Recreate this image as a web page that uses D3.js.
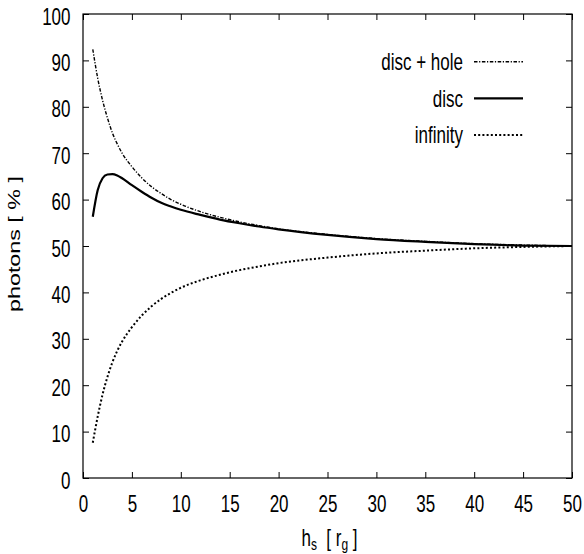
<!DOCTYPE html>
<html>
<head>
<meta charset="utf-8">
<script src="https://cdn.jsdelivr.net/npm/d3@7"></script>
<style>
  body { margin: 0; background: #fff; }
  svg text { font-family: "Liberation Sans", Arial, sans-serif; fill: #000; white-space: pre; }
</style>
</head>
<body>
<div id="chart"></div>
<script>
// source height h_s [r_g]
const hs = [1, 1.5, 2, 2.5, 3, 3.5, 4, 5, 6, 7, 8, 9, 10, 12, 14, 16, 18, 20, 25, 30, 35, 40, 45, 50];
// photons [%] per series
const discHole = [92.4, 86.2, 81.4, 77.6, 74.4, 72.0, 70.0, 67.1, 64.7, 62.8, 61.3, 60.0, 59.0, 57.4, 56.2, 55.2, 54.4, 53.7, 52.5, 51.6, 51.0, 50.5, 50.2, 50.0];
const disc = [56.3, 62.0, 64.6, 65.4, 65.5, 65.2, 64.6, 63.1, 61.7, 60.4, 59.3, 58.5, 57.8, 56.7, 55.7, 54.9, 54.2, 53.6, 52.4, 51.5, 50.9, 50.4, 50.1, 50.0];
const infinity = [7.6, 13.2, 18.0, 21.8, 24.9, 27.4, 29.4, 32.5, 35.0, 37.0, 38.6, 39.9, 41.0, 42.6, 43.8, 44.8, 45.6, 46.3, 47.5, 48.4, 49.0, 49.5, 49.8, 50.0];

const xTicks = d3.range(0, 51, 5);
const yTicks = d3.range(0, 101, 10);

const series = [
  { name: "disc + hole", values: discHole, width: 1.4, dash: "3.5,1.6,1.2,1.6" },
  { name: "disc", values: disc, width: 2.2, dash: null },
  { name: "infinity", values: infinity, width: 2, dash: "2,2.2" }
];

const W = 584, H = 554;
const margin = { left: 83, right: 12, top: 14, bottom: 76 };
const width = W - margin.left - margin.right;
const height = H - margin.top - margin.bottom;
const stretch = 1.37; // glyphs are taller than wide in the original

const x = d3.scaleLinear([0, 50], [0, width]);
const y = d3.scaleLinear([0, 100], [height, 0]);

const svg = d3.select("#chart")
              .append("svg")
              .attr("width", W)
              .attr("height", H)
              .append("g")
              .attr("transform", "translate(" + margin.left + "," + margin.top + ")");

// ticks pointing inward on all four sides
svg.append("g")
   .attr("transform", "translate(0," + height + ")")
   .call(d3.axisBottom(x).tickValues(xTicks).tickSize(-6).tickSizeOuter(0))
   .call(g => g.select(".domain").remove())
   .selectAll("text")
   .attr("y", null)
   .attr("dy", null)
   .attr("font-size", 17)
   .attr("transform", "translate(0,34) scale(1," + stretch + ")");

svg.append("g")
   .call(d3.axisLeft(y).tickValues(yTicks).tickSize(-6).tickSizeOuter(0))
   .call(g => g.select(".domain").remove())
   .selectAll("text")
   .attr("x", null)
   .attr("dy", null)
   .attr("font-size", 17)
   .attr("transform", "translate(-12.5,10) scale(1," + stretch + ")");

svg.append("g")
   .call(d3.axisTop(x).tickValues(xTicks).tickSize(-6).tickFormat("").tickSizeOuter(0))
   .call(g => g.select(".domain").remove());

svg.append("g")
   .attr("transform", "translate(" + width + ",0)")
   .call(d3.axisRight(y).tickValues(yTicks).tickSize(-6).tickFormat("").tickSizeOuter(0))
   .call(g => g.select(".domain").remove());

svg.selectAll(".tick line").attr("stroke", "#000");

svg.append("rect")
   .attr("width", width)
   .attr("height", height)
   .attr("fill", "none")
   .attr("stroke", "#000")
   .attr("stroke-width", 1.2);

// curves
const line = d3.line()
               .x((d, i) => x(hs[i]))
               .y(d => y(d))
               .curve(d3.curveMonotoneX);

svg.selectAll("path.curve")
   .data(series)
   .join("path")
   .attr("class", "curve")
   .attr("d", d => line(d.values))
   .attr("fill", "none")
   .attr("stroke", "#000")
   .attr("stroke-width", d => d.width)
   .attr("stroke-dasharray", d => d.dash);

// legend
const legend = svg.selectAll("g.legend")
                  .data(series)
                  .join("g")
                  .attr("class", "legend")
                  .attr("transform", (d, i) => "translate(0," + (47.7 + i * 36.6) + ")");

legend.append("line")
      .attr("x1", 391)
      .attr("x2", 440)
      .attr("stroke", "#000")
      .attr("stroke-width", d => d.width)
      .attr("stroke-dasharray", d => d.dash);

legend.append("text")
      .attr("text-anchor", "end")
      .attr("font-size", 17)
      .attr("transform", "translate(380,8.5) scale(1," + stretch + ")")
      .text(d => d.name);

// axis titles
svg.append("text")
   .attr("text-anchor", "middle")
   .attr("font-size", 17)
   .attr("transform", "translate(-63," + (height / 2 - 2) + ") rotate(-90) scale(" + stretch + ",1)")
   .text("photons [ % ]");

const xTitle = svg.append("text")
                  .attr("text-anchor", "middle")
                  .attr("font-size", 17)
                  .attr("transform", "translate(" + (width / 2 + 2) + ",532) scale(1," + stretch + ")");
xTitle.append("tspan").text("h");
xTitle.append("tspan").attr("font-size", 12).attr("dy", 3).text("s");
xTitle.append("tspan").attr("dy", -3).text("  [ r");
xTitle.append("tspan").attr("font-size", 12).attr("dy", 3).text("g");
xTitle.append("tspan").attr("dy", -3).text(" ]");
</script>
</body>
</html>
